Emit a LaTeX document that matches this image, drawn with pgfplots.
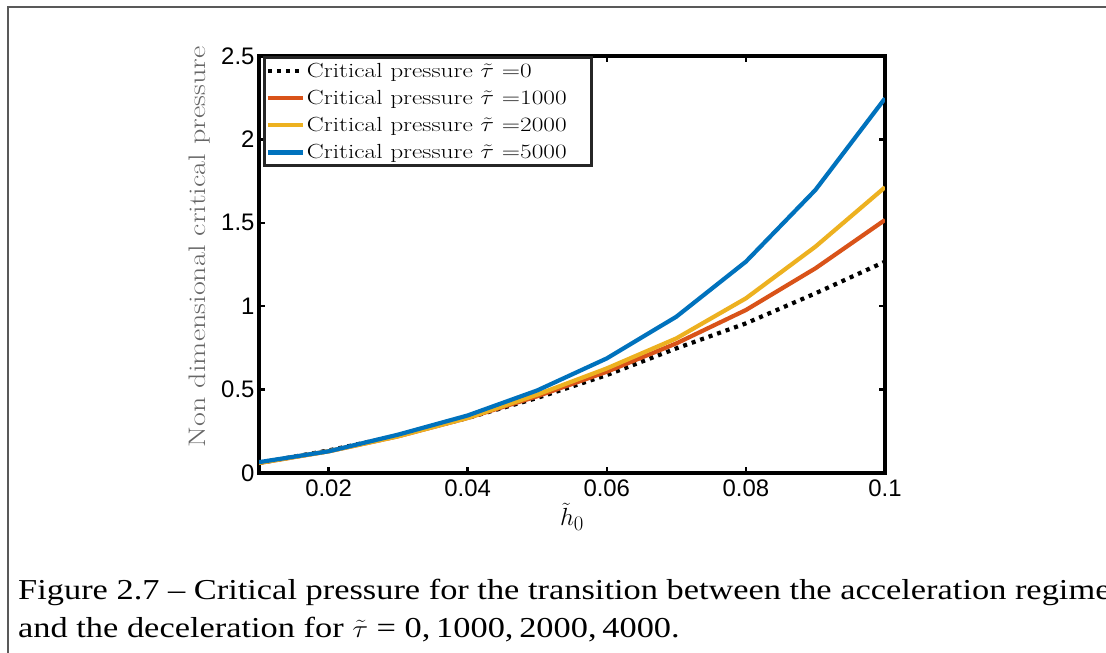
\documentclass[border=0pt]{standalone}
\usepackage{fontspec}
\usepackage{pgfplots}
\pgfplotsset{compat=1.18}
\newfontfamily\helv{Liberation Sans}
\newfontfamily\capfont[Ligatures=TeX]{Liberation Serif}
\definecolor{mblue}{rgb}{0,0.447,0.741}
\definecolor{morange}{rgb}{0.85,0.325,0.098}
\definecolor{myellow}{rgb}{0.929,0.694,0.125}
\newcommand{\legtxt}[1]{\scalebox{1.24}[1]{#1}\hspace*{22bp}}
\begin{document}
\begin{tikzpicture}
\useasboundingbox (0,0) rectangle (1106bp,653bp);
\clip (0,0) rectangle (1106bp,653bp);
\fill[white] (0,0) rectangle (1106bp,653bp);
\draw[line width=1.5bp, black!65] (8bp,-2bp) -- (8bp,646bp) -- (1110bp,646bp);
\begin{axis}[
  at={(259bp,180bp)}, anchor=south west,
  scale only axis, width=626bp, height=417bp,
  xmin=0.01, xmax=0.1, ymin=0, ymax=2.5,
  xtick={0.02,0.04,0.06,0.08,0.1},
  xticklabels={0.02,0.04,0.06,0.08,0.1},
  ytick={0,0.5,1,1.5,2,2.5},
  yticklabels={0,0.5,1,1.5,2,2.5},
  scaled x ticks=false, scaled y ticks=false,
  /pgf/number format/assume math mode=true,
  axis line style={line width=4bp, black},
  tick style={line width=2.5bp, black},
  major tick length=6bp,
  tick align=inside,
  xticklabel style={font=\helv\fontsize{24}{28}\selectfont, yshift=-3bp},
  yticklabel style={font=\helv\fontsize{24}{28}\selectfont, xshift=-1bp},
  xlabel={$\tilde{h}_0$},
  xlabel style={at={(axis description cs:0.5,-0.105)}, anchor=center, font=\fontsize{28}{32}\selectfont},
  ylabel={\scalebox{1.26}[1]{Non dimensional critical pressure}},
  ylabel style={at={(axis description cs:-0.0958,0.542)}, anchor=center, font=\fontsize{24}{28}\selectfont, color=black!60},
  legend cell align=left,
  legend style={at={(axis description cs:0.0067,0.999)}, anchor=north west,
    draw=black!85, line width=3bp, fill=white,
    font=\fontsize{20.5}{22}\selectfont, inner xsep=1bp, inner ysep=3bp,
    row sep=7.5bp},
  legend image code/.code={\draw[#1, line width=4.2bp] (0bp,0bp) -- (35bp,0bp);},
]
\addplot[black, line width=4.2bp, dash pattern=on 4bp off 5bp] coordinates {
(0.01,0.06) (0.02,0.135) (0.03,0.225) (0.04,0.33) (0.05,0.45) (0.06,0.587) (0.07,0.747) (0.08,0.897) (0.09,1.077) (0.1,1.267)};
\addlegendentry{\legtxt{Critical pressure $\tilde{\tau}$ =0}}
\addplot[morange, line width=4.2bp] coordinates {
(0.01,0.06) (0.02,0.13) (0.03,0.22) (0.04,0.33) (0.05,0.46) (0.06,0.607) (0.07,0.777) (0.08,0.977) (0.09,1.227) (0.1,1.517)};
\addlegendentry{\legtxt{Critical pressure $\tilde{\tau}$ =1000}}
\addplot[myellow, line width=4.2bp] coordinates {
(0.01,0.06) (0.02,0.13) (0.03,0.22) (0.04,0.33) (0.05,0.47) (0.06,0.627) (0.07,0.807) (0.08,1.047) (0.09,1.357) (0.1,1.713)};
\addlegendentry{\legtxt{Critical pressure $\tilde{\tau}$ =2000}}
\addplot[mblue, line width=4.2bp] coordinates {
(0.01,0.065) (0.02,0.13) (0.03,0.23) (0.04,0.345) (0.05,0.495) (0.06,0.687) (0.07,0.937) (0.08,1.267) (0.09,1.697) (0.1,2.246)};
\addlegendentry{\legtxt{Critical pressure $\tilde{\tau}$ =5000}}
\end{axis}
\node[anchor=base west, inner sep=0pt, font=\capfont\fontsize{29}{34}\selectfont] at (18bp,53bp) {\scalebox{1.19}[1]{Figure 2.7 – Critical pressure for the transition between the acceleration regime}};
\node[anchor=base west, inner sep=0pt, font=\capfont\fontsize{29}{34}\selectfont] at (18bp,16bp) {\scalebox{1.19}[1]{and the deceleration for $\tilde{\tau}$ = 0,\,1000,\,2000,\,4000.}};
\end{tikzpicture}
\end{document}
